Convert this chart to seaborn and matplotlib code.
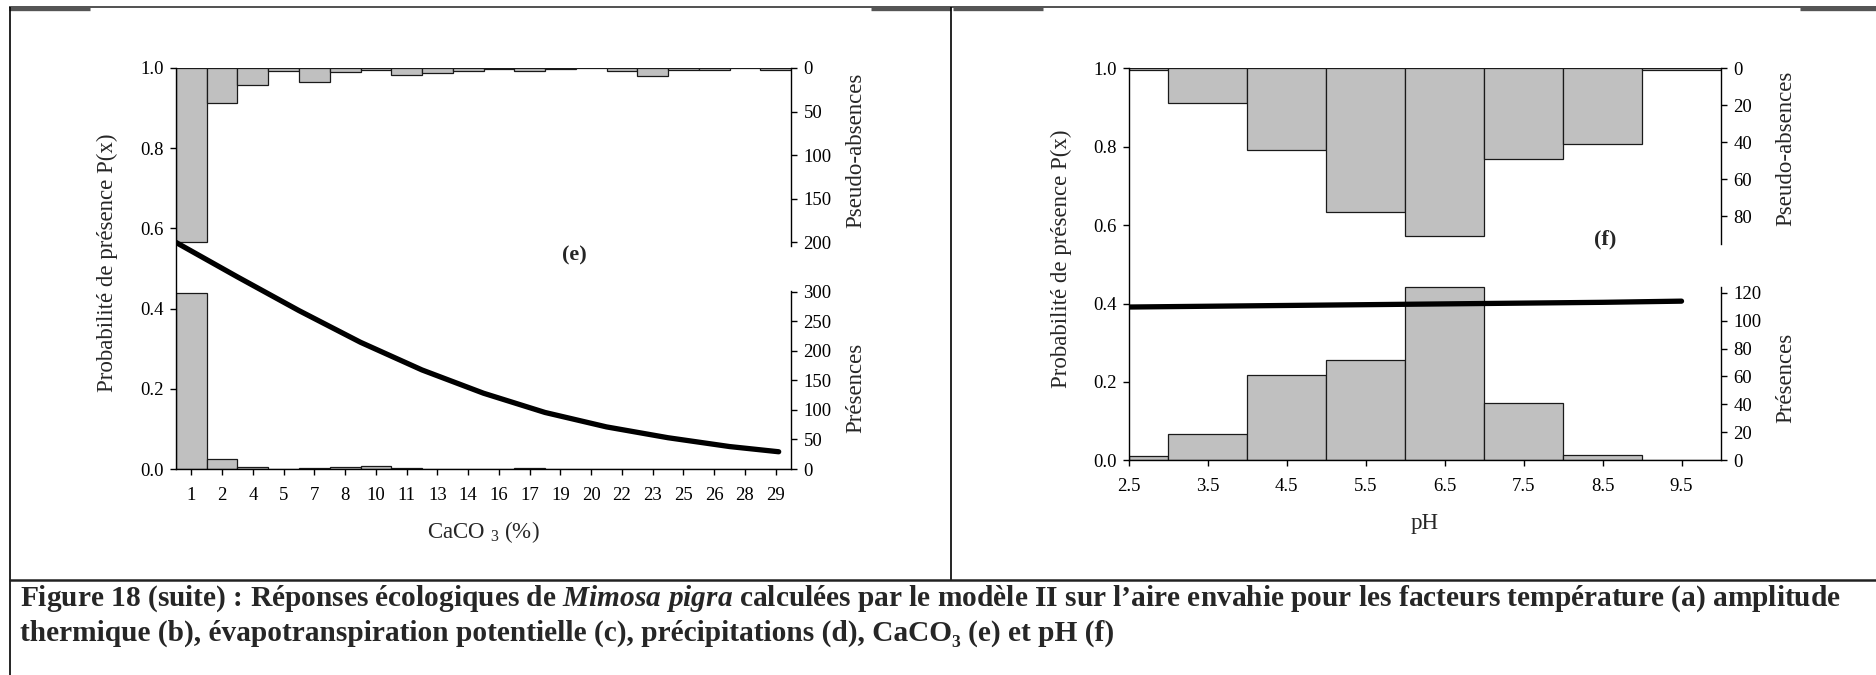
import numpy as np
import pandas as pd
import matplotlib
matplotlib.use("Agg")
import matplotlib.pyplot as plt
import seaborn as sns
from matplotlib.lines import Line2D

# ---------------- data ----------------
caco3_labels = ['1', '2', '4', '5', '7', '8', '10', '11', '13', '14',
                '16', '17', '19', '20', '22', '23', '25', '26', '28', '29']
caco3_pseudo = [200, 40, 20, 4, 16, 5, 2, 8, 6, 4, 1, 3, 1, 0, 4, 9, 2, 2, 0, 2]
caco3_pres = [298, 17, 4, 0, 2, 3, 5, 1, 0, 0, 0, 1, 0, 0, 0, 0, 0, 0, 0, 0]
# curve read in bin-position units (0 = left edge of first bin)
caco3_curve_pos = [0, 2, 4, 6, 8, 10, 12, 14, 16, 18, 19.6]
caco3_curve_p = [0.565, 0.479, 0.395, 0.316, 0.247, 0.189, 0.141, 0.105, 0.078, 0.056, 0.043]

ph_edges = [2.5, 3, 4, 5, 6, 7, 8, 9, 10]
ph_pseudo = [1, 19, 44, 78, 91, 49, 41, 1]
ph_pres = [3, 19, 61, 72, 124, 41, 4, 0]
ph_ticks = [2.5, 3.5, 4.5, 5.5, 6.5, 7.5, 8.5, 9.5]
ph_curve_x = [2.5, 4.5, 6.5, 8.5, 9.5]
ph_curve_p = [0.391, 0.395, 0.399, 0.403, 0.406]

prob_ticks = [0.0, 0.2, 0.4, 0.6, 0.8, 1.0]

caption_1 = ("Figure 18 (suite) : Réponses écologiques de $\\mathit{Mimosa\\ pigra}$ calculées par le "
             "modèle II sur l’aire envahie pour les facteurs température (a) amplitude")
caption_2 = "thermique (b), évapotranspiration potentielle (c), précipitations (d), CaCO₃ (e) et pH (f)"

# ---------------- style ----------------
sns.set_style("ticks")
plt.rcParams['font.family'] = ['Liberation Serif', 'DejaVu Serif']
plt.rcParams['mathtext.fontset'] = 'custom'
plt.rcParams['mathtext.rm'] = 'Liberation Serif'
plt.rcParams['mathtext.it'] = 'Liberation Serif:italic:bold'
plt.rcParams['mathtext.bf'] = 'Liberation Serif:bold'

W, H = 1876, 675
fig = plt.figure(figsize=(W / 100, H / 100), dpi=100)
fig.patch.set_facecolor('white')

BAR = '#c0c0c0'
EDGE = '#1a1a1a'
TICK_FS = 13.5
LAB_FS = 16.5


def rect(x0, y_top, x1, y_bot):
    return [x0 / W, 1 - y_bot / H, (x1 - x0) / W, (y_bot - y_top) / H]


def panel(r, edges, pseudo, pres, cx, cp, xticks, xticklabels, xlim,
          pa_lim, pa_ticks, pa_bound, pr_lim, pr_ticks, pr_bound,
          xlabel, lab_pos, tag, tag_xy):
    ax = fig.add_axes(r)
    ax_pa = ax.twinx()
    ax_pr = ax.twinx()
    edges = [float(e) for e in edges]
    centers = [(a + b) / 2 for a, b in zip(edges[:-1], edges[1:])]
    df = pd.DataFrame({'x': centers, 'pseudo': pseudo, 'pres': pres})

    sns.histplot(data=df, x='x', weights='pseudo', bins=edges, ax=ax_pa, color=BAR,
                 edgecolor=EDGE, linewidth=0.9, alpha=1)
    sns.histplot(data=df, x='x', weights='pres', bins=edges, ax=ax_pr, color=BAR,
                 edgecolor=EDGE, linewidth=0.9, alpha=1)
    sns.lineplot(x=cx, y=cp, ax=ax, color='black', linewidth=3.8)

    ax.set_zorder(5)
    ax.patch.set_visible(False)

    ax.set_xlim(*xlim)
    ax.set_ylim(0, 1)
    ax.set_xticks(xticks)
    ax.set_xticklabels(xticklabels)
    ax.set_yticks(prob_ticks)
    ax.set_yticklabels([f"{v:.1f}" for v in prob_ticks])
    for s in ['top', 'right']:
        ax.spines[s].set_visible(False)
    for s in ['left', 'bottom']:
        ax.spines[s].set_color('black')
        ax.spines[s].set_linewidth(1.0)
    ax.tick_params(axis='y', direction='out', length=4, width=1, pad=5,
                   labelsize=TICK_FS, colors='black')
    ax.tick_params(axis='x', direction='out', length=4, width=1, pad=9,
                   labelsize=TICK_FS, colors='black')
    ax.set_xlabel(xlabel, fontsize=LAB_FS)
    ax.xaxis.label.set_va('center')
    ax.xaxis.set_label_coords(0.5, lab_pos[0])
    ax.set_ylabel('Probabilité de présence P(x)', fontsize=LAB_FS)
    ax.yaxis.label.set_va('center')
    ax.yaxis.set_label_coords(lab_pos[1], 0.515)

    for tw, lim, ticks, bound, lab, ly in [
            (ax_pa, pa_lim, pa_ticks, pa_bound, 'Pseudo-absences', lab_pos[3]),
            (ax_pr, pr_lim, pr_ticks, pr_bound, 'Présences', lab_pos[4])]:
        tw.set_ylim(*lim)
        tw.set_yticks(ticks)
        tw.set_yticklabels([str(t) for t in ticks])
        for s in ['top', 'left', 'bottom']:
            tw.spines[s].set_visible(False)
        tw.spines['right'].set_bounds(*bound)
        tw.spines['right'].set_color('black')
        tw.spines['right'].set_linewidth(1.0)
        tw.tick_params(axis='y', direction='out', length=4, width=1, pad=5,
                       labelsize=TICK_FS, colors='black')
        tw.set_xlabel('')
        tw.set_ylabel(lab, fontsize=LAB_FS)
        tw.yaxis.label.set_va('center')
        tw.yaxis.label.set_ha('center')
        tw.yaxis.set_label_coords(lab_pos[2], ly)
    ax.set_xlim(*xlim)
    fig.text(tag_xy[0] / W, 1 - tag_xy[1] / H, tag, fontsize=16, fontweight='bold',
             ha='center', va='center')
    return ax


nbin = len(caco3_labels)
panel(rect(176, 68, 791, 469), list(range(nbin + 1)), caco3_pseudo, caco3_pres,
      caco3_curve_pos, caco3_curve_p, [i + 0.5 for i in range(nbin)], caco3_labels, (0, nbin),
      (460, 0), [0, 50, 100, 150, 200], (0, 204),
      (0, 678.5), [0, 50, 100, 150, 200, 250, 300], (0, 302),
      'CaCO $_{3}$ (%)', (-0.157, -0.112, 1.106, 0.794, 0.203), '(e)', (574, 255))

panel(rect(1129, 68.3, 1721, 460.3), ph_edges, ph_pseudo, ph_pres,
      ph_curve_x, ph_curve_p, ph_ticks, [f"{t:.1f}" for t in ph_ticks], (2.5, 10),
      (212.3, 0), [0, 20, 40, 60, 80], (0, 95),
      (0, 280.6), [0, 20, 40, 60, 80, 100, 120], (0, 124),
      'pH', (-0.16, -0.115, 1.11, 0.797, 0.21), '(f)', (1605, 239))


# ---------------- frame lines ----------------
def hline(y, x0, x1, lw, color='black'):
    fig.add_artist(Line2D([x0 / W, x1 / W], [1 - y / H, 1 - y / H], lw=lw, color=color,
                          transform=fig.transFigure, solid_capstyle='butt'))


def vline(x, y0, y1, lw, color='black'):
    fig.add_artist(Line2D([x / W, x / W], [1 - y0 / H, 1 - y1 / H], lw=lw, color=color,
                          transform=fig.transFigure, solid_capstyle='butt'))


hline(7, 9, W, 1.1, '#222222')
for a, b in [(9, 90), (871, 951), (953, 1043), (1800, W)]:
    hline(8.5, a, b, 2.4, '#555555')
vline(9.5, 7, H, 1.2)
vline(951, 7, 580, 1.2)
hline(580, 9, W, 1.8, '#222222')

# ---------------- caption ----------------
t1 = fig.text(20 / W, 1 - 599 / H, caption_1, fontsize=17.5, fontweight='bold',
              ha='left', va='center')
t2 = fig.text(20 / W, 1 - 633 / H, caption_2, fontsize=17.5, fontweight='bold',
              ha='left', va='center')
renderer = fig.canvas.get_renderer()
wid = t1.get_window_extent(renderer).width
fs = 17.5 * 1820 / wid
t1.set_fontsize(fs)
t2.set_fontsize(fs)

fig.savefig('out.png', dpi=100, facecolor='white')
